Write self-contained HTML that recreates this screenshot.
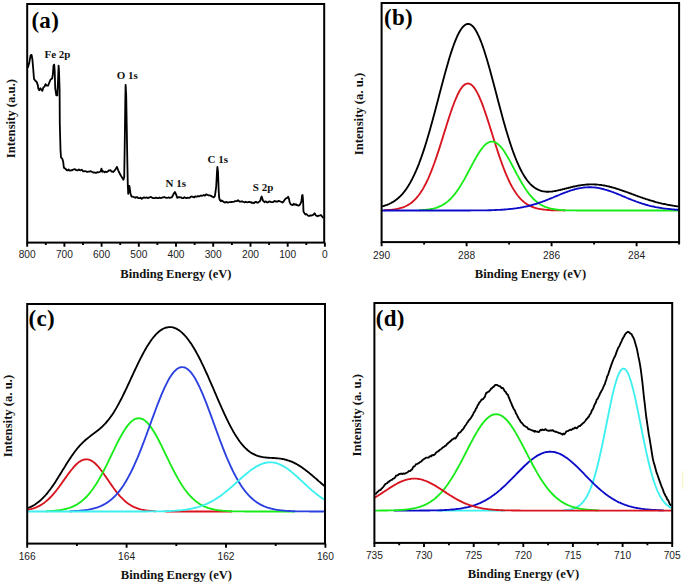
<!DOCTYPE html>
<html><head><meta charset="utf-8"><style>
html,body{margin:0;padding:0;background:#fff;}
svg{display:block;}
.k{fill:none;stroke:#000;stroke-width:1.85;stroke-linejoin:round;}
.r{fill:none;stroke:#d8141e;stroke-width:1.85;}
.g{fill:none;stroke:#18ec18;stroke-width:1.85;}
.bd{fill:none;stroke:#0c0cc8;stroke-width:1.85;}
.bm{fill:none;stroke:#2a40e0;stroke-width:1.85;}
.cy{fill:none;stroke:#3cf0f0;stroke-width:1.85;}
.tl{font-family:"Liberation Sans", sans-serif;font-size:10.2px;fill:#1c1c1c;}
.at{font-family:"Liberation Serif", serif;font-weight:bold;font-size:12.6px;fill:#111;}
.yl{font-size:12.7px;}
.pl{font-family:"Liberation Serif", serif;font-weight:bold;font-size:23px;fill:#000;letter-spacing:0.3px;}
.pk{font-family:"Liberation Serif", serif;font-weight:bold;font-size:11px;fill:#111;}
</style></head><body>
<svg width="685" height="585" viewBox="0 0 685 585">
<rect width="685" height="585" fill="#fff"/>
<rect x="682" y="471" width="1.4" height="18" fill="#f8f0a8" opacity="0.6"/>
<polyline points="27.8,67.7 29.1,63.6 30.6,55.4 31.6,54.9 32.4,59.5 33.2,68.7 34,79 35.2,80.5 36.8,82.1 37.8,85.1 38.3,88.7 39.3,90.3 40.4,88.2 41.4,89.7 42.4,90.8 43.4,87.2 44.5,86.7 45.5,84.1 46.5,85.6 48.1,85.6 49.1,83.1 50.6,79.5 52.2,78.5 52.9,73.8 53.5,65.6 54.2,64.6 54.7,70.8 55.2,88.2 56.3,95.4 57.3,95.4 58,81 58.6,65.6 59,70.8 59.6,89.2 59.8,124 60.5,149.8 61,157.5 62.2,158.4 63.2,161.8 63.9,167.8 65.3,168.6 66.2,169.5 67,170.3 67.8,170.4 68.7,169.5 69.6,170.5 70.4,170.6 71.2,170.2 72.1,170.3 72.9,169.7 73.8,169.3 74.7,169.2 75.5,169.5 76.3,170.2 77.2,170.5 78.1,170 78.9,169.5 79.8,170.2 80.6,170.4 81.5,169.6 82.4,170.3 83.2,171.4 84.1,171.3 84.9,171.2 85.8,171.2 86.7,171.8 87.5,171.9 88.3,171.7 89.2,171.7 90.1,171.3 90.9,171.2 91.8,171.8 92.6,172 93.4,172.6 94.3,172.5 95.2,172.6 96,172.9 96.8,172.4 97.7,172.1 98.6,172.3 99.4,172 100.5,171.5 101.5,168.6 102.2,171.8 102.9,171.2 103.8,171.5 104.6,172.4 105.4,171.6 106.3,172 107.2,171.8 108,171.2 108.8,170.5 109.7,170.3 110.6,170.2 111.4,171.7 112.2,171.5 113.1,172 114,171.1 114.8,170.3 116,168.5 116.9,166.9 118.2,170.3 119.5,173 120.8,175.5 122.1,177.6 123.4,179.7 124.2,177.2 124.8,140 125.3,100 125.6,84.8 126.2,95 126.8,130 127.3,160 127.8,185 128.2,193.8 128.8,190 129.4,185.8 130,190 130.5,193.8 131.6,196.7 132.7,196.7 133.8,197 135.2,197.8 135.9,197.1 136.7,197.4 137.4,197.2 138.2,198.1 139.6,198.2 140.7,197.6 141.8,198.9 142.9,198 144,197.4 144.8,197.7 145.5,197.9 146.9,197.4 147.8,198 148.7,197.8 149.6,197.3 150.5,197 151.4,197.2 152.3,197.9 153.2,198.2 154.2,198.2 155.1,198.2 156,197.6 156.9,197.8 157.8,198.2 158.7,198.1 159.6,197.5 160.6,198.1 161.5,197.9 162.4,197.5 163.3,197.3 164.2,197 165.1,197.4 166.1,197.8 167,197.9 167.9,197.7 168.8,197.4 169.6,197.9 170.3,197.6 171.7,197.4 172.7,195.8 173.6,193.8 174.9,192 176.1,194.5 177.3,197.9 178.1,197.1 178.9,197.3 179.7,197.1 180.5,197.4 181.2,197.4 182,198.1 183.4,198.2 184.2,197.2 184.9,197.5 186.3,198.2 187.7,197.6 188.4,197.8 189.2,197.9 189.9,197.6 190.7,196.9 191.4,196.5 192.2,196.7 193.6,197.2 194.3,197.4 195.1,196.4 196.5,196.6 197.2,196.6 198,196 198.8,196.4 199.5,196.3 200.9,195.5 201.7,195.8 202.4,195.7 203.8,195 204.6,195.6 205.3,195.4 206.1,194.4 206.8,194.5 208.2,195.2 208.9,195.5 209.7,195.3 211.1,195.8 211.8,196.5 212.6,196.7 213.7,197.4 214.8,196.4 215.5,192 216.2,186.5 217,171.9 217.4,166.8 218,171.9 218.7,190.9 219.1,197 219.6,199.6 220.9,201.3 221.7,200.4 222.5,201 223.6,201.9 224.7,202.6 225.6,202.1 226.5,201.9 227.4,202.5 228.4,202.5 229.4,202.2 230.4,202.2 231.4,202 232.3,201.8 233.2,201.9 234.2,201.7 235.1,201.1 236.1,201.2 237.1,201 238,200.3 238.9,201 239.8,201.7 240.8,201.7 241.7,201.4 242.6,201.5 243.6,202 244.6,202.3 245.5,201.7 246.4,202.2 247.4,202.3 248.4,202 249.3,201.8 250.2,202.3 251.2,202.2 252.1,203 253.1,202.7 254.1,203.1 255,202.1 255.9,201.7 256.9,202.6 257.8,202.7 258.6,202 259.5,201.5 260.3,200.7 261,198 261.7,196.5 262.4,198.5 263,200.7 263.8,201.4 264.5,202.2 265.4,201.5 266.4,201.7 267.4,202.5 268.3,202.2 269.2,201.4 270.2,201.7 271.1,202.1 272.1,202.1 273.1,202.2 274,201.3 274.9,200.9 275.9,201.7 276.9,201.5 277.8,201.5 278.8,200.8 279.7,201.2 280.7,201.7 281.7,202 282.5,202.5 283.4,201.8 284.7,199.7 286,198.4 287.3,197.9 288.1,196.7 289,198.8 289.6,202.2 290.7,204.4 292,204.8 292.9,205.1 293.7,203.8 295,204.8 295.9,204.2 296.7,205 297.5,205.1 298.4,205.6 299.2,205.3 300.1,204.4 301.4,201.4 302.1,195.4 302.6,195 303.1,201.4 303.5,211.6 304.8,213.8 305.6,214.5 306.5,214 307.8,215.5 308.6,215.9 309.5,215.9 310.4,215.4 311.2,215.5 312,215.4 312.9,215 313.8,214.1 314.6,213.3 315.9,215.5 316.8,215.8 317.6,216.3 318.5,215.7 319.3,215.7 320.1,215.5 321,215 322.3,216.8 323.2,218" class="k" style="stroke-width:1.8"/><polyline points="382.1,206.3 383.1,206.1 384.1,205.8 385.1,205.5 386.1,205.1 387.1,204.8 388.1,204.4 389.1,204 390.1,203.5 391.1,203 392.1,202.4 393.1,201.9 394.1,201.2 395.1,200.6 396.1,199.8 397.1,199 398.1,198.2 399.1,197.3 400.1,196.4 401.1,195.3 402.1,194.3 403.1,193.1 404.1,191.9 405.1,190.6 406.1,189.2 407.1,187.7 408.1,186.2 409.1,184.6 410.1,182.9 411.1,181 412.1,179.2 413.1,177.2 414.1,175.1 415.1,172.9 416.1,170.7 417.1,168.3 418.1,165.8 419.1,163.3 420.1,160.6 421.1,157.9 422.1,155 423.1,152.1 424.1,149.1 425.1,146 426.1,142.8 427.1,139.5 428.1,136.1 429.1,132.7 430.1,129.2 431.1,125.6 432.1,122 433.1,118.3 434.1,114.6 435.1,110.9 436.1,107.1 437.1,103.3 438.1,99.5 439.1,95.6 440.1,91.8 441.1,88 442.1,84.2 443.1,80.4 444.1,76.7 445.1,73 446.1,69.4 447.1,65.9 448.1,62.4 449.1,59 450.1,55.8 451.1,52.6 452.1,49.6 453.1,46.7 454.1,43.9 455.1,41.3 456.1,38.8 457.1,36.5 458.1,34.4 459.1,32.5 460.1,30.7 461.1,29.2 462.1,27.8 463.1,26.6 464.1,25.7 465.1,24.9 466.1,24.4 467.1,24 468.1,23.9 469.1,24 470.1,24.4 471.1,24.9 472.1,25.7 473.1,26.7 474.1,27.9 475.1,29.3 476.1,30.9 477.1,32.8 478.1,34.8 479.1,36.9 480.1,39.3 481.1,41.8 482.1,44.5 483.1,47.4 484.1,50.3 485.1,53.5 486.1,56.7 487.1,60 488.1,63.4 489.1,67 490.1,70.6 491.1,74.2 492.1,77.9 493.1,81.7 494.1,85.5 495.1,89.3 496.1,93.1 497.1,96.9 498.1,100.8 499.1,104.6 500.1,108.3 501.1,112.1 502.1,115.8 503.1,119.4 504.1,123 505.1,126.5 506.1,130 507.1,133.3 508.1,136.6 509.1,139.8 510.1,142.9 511.1,146 512.1,148.9 513.1,151.7 514.1,154.4 515.1,157 516.1,159.5 517.1,162 518.1,164.2 519.1,166.4 520.1,168.5 521.1,170.5 522.1,172.4 523.1,174.1 524.1,175.8 525.1,177.4 526.1,178.8 527.1,180.2 528.1,181.5 529.1,182.7 530.1,183.8 531.1,184.8 532.1,185.7 533.1,186.5 534.1,187.3 535.1,188 536.1,188.6 537.1,189.2 538.1,189.7 539.1,190.1 540.1,190.5 541.1,190.8 542.1,191.1 543.1,191.3 544.1,191.4 545.1,191.6 546.1,191.7 547.1,191.7 548.1,191.7 549.1,191.7 550.1,191.6 551.1,191.6 552.1,191.5 553.1,191.3 554.1,191.2 555.1,191 556.1,190.8 557.1,190.6 558.1,190.4 559.1,190.2 560.1,190 561.1,189.7 562.1,189.5 563.1,189.2 564.1,189 565.1,188.7 566.1,188.5 567.1,188.2 568.1,188 569.1,187.7 570.1,187.5 571.1,187.2 572.1,187 573.1,186.7 574.1,186.5 575.1,186.3 576.1,186.1 577.1,185.9 578.1,185.7 579.1,185.5 580.1,185.4 581.1,185.2 582.1,185.1 583.1,184.9 584.1,184.8 585.1,184.7 586.1,184.6 587.1,184.5 588.1,184.5 589.1,184.4 590.1,184.4 591.1,184.4 592.1,184.4 593.1,184.4 594.1,184.4 595.1,184.5 596.1,184.5 597.1,184.6 598.1,184.7 599.1,184.8 600.1,184.9 601.1,185 602.1,185.2 603.1,185.3 604.1,185.5 605.1,185.7 606.1,185.9 607.1,186.1 608.1,186.3 609.1,186.5 610.1,186.8 611.1,187 612.1,187.3 613.1,187.6 614.1,187.9 615.1,188.2 616.1,188.5 617.1,188.8 618.1,189.1 619.1,189.4 620.1,189.8 621.1,190.1 622.1,190.5 623.1,190.8 624.1,191.2 625.1,191.5 626.1,191.9 627.1,192.2 628.1,192.6 629.1,193 630.1,193.3 631.1,193.7 632.1,194.1 633.1,194.4 634.1,194.8 635.1,195.2 636.1,195.6 637.1,195.9 638.1,196.3 639.1,196.6 640.1,197 641.1,197.4 642.1,197.7 643.1,198.1 644.1,198.4 645.1,198.7 646.1,199.1 647.1,199.4 648.1,199.7 649.1,200 650.1,200.3 651.1,200.6 652.1,200.9 653.1,201.2 654.1,201.5 655.1,201.8 656.1,202.1 657.1,202.3 658.1,202.6 659.1,202.9 660.1,203.1 661.1,203.3 662.1,203.6 663.1,203.8 664.1,204 665.1,204.2 666.1,204.4 667.1,204.6 668.1,204.8 669.1,205 670.1,205.2 671.1,205.4 672.1,205.5 673.1,205.7 674.1,205.8 675.1,206 676.1,206.1 677.1,206.3 678.1,206.4 678.6,206.5" class="k"/><polyline points="384.1,210.2 385.1,210.2 386.1,210.1 387.1,210.1 388.1,210 389.1,209.9 390.1,209.9 391.1,209.8 392.1,209.7 393.1,209.6 394.1,209.4 395.1,209.3 396.1,209.1 397.1,208.9 398.1,208.7 399.1,208.5 400.1,208.2 401.1,207.9 402.1,207.6 403.1,207.3 404.1,206.9 405.1,206.5 406.1,206 407.1,205.5 408.1,204.9 409.1,204.3 410.1,203.7 411.1,203 412.1,202.2 413.1,201.3 414.1,200.4 415.1,199.4 416.1,198.4 417.1,197.2 418.1,196 419.1,194.7 420.1,193.3 421.1,191.8 422.1,190.3 423.1,188.6 424.1,186.8 425.1,184.9 426.1,183 427.1,180.9 428.1,178.8 429.1,176.5 430.1,174.1 431.1,171.7 432.1,169.1 433.1,166.5 434.1,163.8 435.1,161 436.1,158.1 437.1,155.1 438.1,152.1 439.1,149.1 440.1,145.9 441.1,142.8 442.1,139.6 443.1,136.4 444.1,133.1 445.1,129.9 446.1,126.7 447.1,123.5 448.1,120.4 449.1,117.3 450.1,114.3 451.1,111.3 452.1,108.4 453.1,105.7 454.1,103 455.1,100.5 456.1,98.1 457.1,95.8 458.1,93.7 459.1,91.8 460.1,90.1 461.1,88.5 462.1,87.2 463.1,86 464.1,85.1 465.1,84.4 466.1,83.9 467.1,83.6 468.1,83.5 469.1,83.7 470.1,84 471.1,84.6 472.1,85.4 473.1,86.4 474.1,87.6 475.1,89 476.1,90.6 477.1,92.4 478.1,94.4 479.1,96.5 480.1,98.8 481.1,101.2 482.1,103.7 483.1,106.4 484.1,109.2 485.1,112.1 486.1,115 487.1,118 488.1,121.1 489.1,124.2 490.1,127.4 491.1,130.6 492.1,133.8 493.1,137 494.1,140.2 495.1,143.3 496.1,146.5 497.1,149.5 498.1,152.6 499.1,155.6 500.1,158.5 501.1,161.3 502.1,164.1 503.1,166.8 504.1,169.4 505.1,171.9 506.1,174.3 507.1,176.7 508.1,178.9 509.1,181 510.1,183.1 511.1,185 512.1,186.9 513.1,188.6 514.1,190.3 515.1,191.8 516.1,193.3 517.1,194.7 518.1,196 519.1,197.2 520.1,198.3 521.1,199.4 522.1,200.4 523.1,201.3 524.1,202.1 525.1,202.9 526.1,203.6 527.1,204.3 528.1,204.9 529.1,205.4 530.1,206 531.1,206.4 532.1,206.8 533.1,207.2 534.1,207.6 535.1,207.9 536.1,208.2 537.1,208.4 538.1,208.7 539.1,208.9 540.1,209.1 541.1,209.2 542.1,209.4 543.1,209.5 544.1,209.6 545.1,209.7 546.1,209.8 547.1,209.9 548.1,210 549.1,210.1 550.1,210.1 551.1,210.2 552.1,210.2 553.1,210.3 554.1,210.3 555.1,210.3 556.1,210.3 557.1,210.4 558.1,210.4 559.1,210.4 560.1,210.4 561.1,210.4 562.1,210.4 563.1,210.4 564.1,210.5 565.1,210.5" class="r"/><polyline points="419.1,210.2 420.1,210.2 421.1,210.1 422.1,210.1 423.1,210 424.1,209.9 425.1,209.8 426.1,209.7 427.1,209.6 428.1,209.5 429.1,209.3 430.1,209.2 431.1,209 432.1,208.8 433.1,208.6 434.1,208.3 435.1,208.1 436.1,207.8 437.1,207.4 438.1,207.1 439.1,206.7 440.1,206.2 441.1,205.8 442.1,205.2 443.1,204.7 444.1,204.1 445.1,203.4 446.1,202.7 447.1,201.9 448.1,201.1 449.1,200.2 450.1,199.3 451.1,198.3 452.1,197.2 453.1,196.1 454.1,194.9 455.1,193.6 456.1,192.3 457.1,190.9 458.1,189.5 459.1,188 460.1,186.4 461.1,184.8 462.1,183.1 463.1,181.4 464.1,179.7 465.1,177.9 466.1,176 467.1,174.2 468.1,172.3 469.1,170.4 470.1,168.5 471.1,166.6 472.1,164.7 473.1,162.9 474.1,161 475.1,159.2 476.1,157.4 477.1,155.7 478.1,154.1 479.1,152.5 480.1,151 481.1,149.6 482.1,148.2 483.1,147 484.1,145.9 485.1,144.9 486.1,144 487.1,143.3 488.1,142.7 489.1,142.2 490.1,141.9 491.1,141.7 492.1,141.6 493.1,141.7 494.1,141.9 495.1,142.3 496.1,142.8 497.1,143.4 498.1,144.2 499.1,145.1 500.1,146.1 501.1,147.2 502.1,148.5 503.1,149.8 504.1,151.3 505.1,152.8 506.1,154.4 507.1,156.1 508.1,157.8 509.1,159.6 510.1,161.4 511.1,163.2 512.1,165.1 513.1,167 514.1,168.9 515.1,170.8 516.1,172.7 517.1,174.6 518.1,176.4 519.1,178.2 520.1,180 521.1,181.8 522.1,183.5 523.1,185.1 524.1,186.7 525.1,188.3 526.1,189.8 527.1,191.2 528.1,192.6 529.1,193.9 530.1,195.1 531.1,196.3 532.1,197.4 533.1,198.5 534.1,199.5 535.1,200.4 536.1,201.3 537.1,202.1 538.1,202.8 539.1,203.5 540.1,204.2 541.1,204.8 542.1,205.3 543.1,205.9 544.1,206.3 545.1,206.8 546.1,207.1 547.1,207.5 548.1,207.8 549.1,208.1 550.1,208.4 551.1,208.6 552.1,208.8 553.1,209 554.1,209.2 555.1,209.4 556.1,209.5 557.1,209.6 558.1,209.7 559.1,209.8 560.1,209.9 561.1,210 562.1,210.1 563.1,210.1 564.1,210.2 565.1,210.2 566.1,210.3 567.1,210.3 568.1,210.3 569.1,210.4 570.1,210.4 571.1,210.4 572.1,210.4 573.1,210.4 574.1,210.4 575.1,210.4 576.1,210.5 577.1,210.5 578.1,210.5 579.1,210.5 580.1,210.5 581.1,210.5 582.1,210.5 583.1,210.5 584.1,210.5 585.1,210.5 586.1,210.5 587.1,210.5 588.1,210.5 589.1,210.5 590.1,210.5 591.1,210.5 592.1,210.5 593.1,210.5 594.1,210.5 595.1,210.5 596.1,210.5 597.1,210.5 598.1,210.5 599.1,210.5 600.1,210.5 601.1,210.5 602.1,210.5 603.1,210.5 604.1,210.5 605.1,210.5 606.1,210.5 607.1,210.5 608.1,210.5 609.1,210.5 610.1,210.5 611.1,210.5 612.1,210.5 613.1,210.5 614.1,210.5 615.1,210.5 616.1,210.5 617.1,210.5 618.1,210.5 619.1,210.5 620.1,210.5 621.1,210.5 622.1,210.5 623.1,210.5 624.1,210.5 625.1,210.5 626.1,210.5 627.1,210.5 628.1,210.5 629.1,210.5 630.1,210.5 631.1,210.5 632.1,210.5 633.1,210.5 634.1,210.5 635.1,210.5 636.1,210.5 637.1,210.5 638.1,210.5 639.1,210.5 640.1,210.5 641.1,210.5 642.1,210.5 643.1,210.5 644.1,210.5 645.1,210.5 646.1,210.5 647.1,210.5 648.1,210.5 649.1,210.5 650.1,210.5 651.1,210.5 652.1,210.5 653.1,210.5 654.1,210.5 655.1,210.5 656.1,210.5 657.1,210.5 658.1,210.5 659.1,210.5 660.1,210.5 661.1,210.5 662.1,210.5 663.1,210.5 664.1,210.5 665.1,210.5 666.1,210.5 667.1,210.5 668.1,210.5 669.1,210.5 670.1,210.5 671.1,210.5 672.1,210.5 673.1,210.5 674.1,210.5 675.1,210.5 676.1,210.5 677.1,210.5 678.1,210.5 678.6,210.5" class="g"/><polyline points="382.1,210.5 383.1,210.5 384.1,210.5 385.1,210.5 386.1,210.5 387.1,210.5 388.1,210.5 389.1,210.5 390.1,210.5 391.1,210.5 392.1,210.5 393.1,210.5 394.1,210.5 395.1,210.5 396.1,210.5 397.1,210.5 398.1,210.5 399.1,210.5 400.1,210.5 401.1,210.5 402.1,210.5 403.1,210.5 404.1,210.5 405.1,210.5 406.1,210.5 407.1,210.5 408.1,210.5 409.1,210.5 410.1,210.5 411.1,210.5 412.1,210.5 413.1,210.5 414.1,210.5 415.1,210.5 416.1,210.5 417.1,210.5 418.1,210.5 419.1,210.5 420.1,210.5 421.1,210.5 422.1,210.5 423.1,210.5 424.1,210.5 425.1,210.5 426.1,210.5 427.1,210.5 428.1,210.5 429.1,210.5 430.1,210.5 431.1,210.5 432.1,210.5 433.1,210.5 434.1,210.5 435.1,210.5 436.1,210.5 437.1,210.5 438.1,210.5 439.1,210.5 440.1,210.5 441.1,210.5 442.1,210.5 443.1,210.5 444.1,210.5 445.1,210.5 446.1,210.5 447.1,210.5 448.1,210.5 449.1,210.5 450.1,210.5 451.1,210.5 452.1,210.5 453.1,210.5 454.1,210.5 455.1,210.5 456.1,210.5 457.1,210.5 458.1,210.5 459.1,210.5 460.1,210.5 461.1,210.5 462.1,210.5 463.1,210.5 464.1,210.5 465.1,210.5 466.1,210.5 467.1,210.5 468.1,210.5 469.1,210.5 470.1,210.5 471.1,210.4 472.1,210.4 473.1,210.4 474.1,210.4 475.1,210.4 476.1,210.4 477.1,210.4 478.1,210.4 479.1,210.4 480.1,210.4 481.1,210.4 482.1,210.4 483.1,210.3 484.1,210.3 485.1,210.3 486.1,210.3 487.1,210.3 488.1,210.2 489.1,210.2 490.1,210.2 491.1,210.2 492.1,210.1 493.1,210.1 494.1,210.1 495.1,210 496.1,210 497.1,209.9 498.1,209.9 499.1,209.8 500.1,209.8 501.1,209.7 502.1,209.7 503.1,209.6 504.1,209.5 505.1,209.5 506.1,209.4 507.1,209.3 508.1,209.2 509.1,209.1 510.1,209 511.1,208.9 512.1,208.8 513.1,208.7 514.1,208.6 515.1,208.4 516.1,208.3 517.1,208.2 518.1,208 519.1,207.8 520.1,207.7 521.1,207.5 522.1,207.3 523.1,207.1 524.1,206.9 525.1,206.7 526.1,206.5 527.1,206.3 528.1,206 529.1,205.8 530.1,205.5 531.1,205.3 532.1,205 533.1,204.7 534.1,204.4 535.1,204.1 536.1,203.8 537.1,203.5 538.1,203.2 539.1,202.8 540.1,202.5 541.1,202.1 542.1,201.8 543.1,201.4 544.1,201 545.1,200.7 546.1,200.3 547.1,199.9 548.1,199.5 549.1,199.1 550.1,198.7 551.1,198.3 552.1,197.9 553.1,197.5 554.1,197 555.1,196.6 556.1,196.2 557.1,195.8 558.1,195.4 559.1,195 560.1,194.5 561.1,194.1 562.1,193.7 563.1,193.3 564.1,192.9 565.1,192.5 566.1,192.2 567.1,191.8 568.1,191.4 569.1,191.1 570.1,190.7 571.1,190.4 572.1,190.1 573.1,189.8 574.1,189.5 575.1,189.2 576.1,189 577.1,188.7 578.1,188.5 579.1,188.3 580.1,188.1 581.1,187.9 582.1,187.8 583.1,187.6 584.1,187.5 585.1,187.4 586.1,187.3 587.1,187.3 588.1,187.2 589.1,187.2 590.1,187.2 591.1,187.2 592.1,187.3 593.1,187.3 594.1,187.4 595.1,187.5 596.1,187.6 597.1,187.8 598.1,187.9 599.1,188.1 600.1,188.3 601.1,188.5 602.1,188.8 603.1,189 604.1,189.3 605.1,189.6 606.1,189.8 607.1,190.2 608.1,190.5 609.1,190.8 610.1,191.1 611.1,191.5 612.1,191.9 613.1,192.2 614.1,192.6 615.1,193 616.1,193.4 617.1,193.8 618.1,194.2 619.1,194.6 620.1,195 621.1,195.4 622.1,195.9 623.1,196.3 624.1,196.7 625.1,197.1 626.1,197.5 627.1,198 628.1,198.4 629.1,198.8 630.1,199.2 631.1,199.6 632.1,200 633.1,200.4 634.1,200.7 635.1,201.1 636.1,201.5 637.1,201.9 638.1,202.2 639.1,202.6 640.1,202.9 641.1,203.2 642.1,203.6 643.1,203.9 644.1,204.2 645.1,204.5 646.1,204.8 647.1,205 648.1,205.3 649.1,205.6 650.1,205.8 651.1,206.1 652.1,206.3 653.1,206.5 654.1,206.7 655.1,207 656.1,207.2 657.1,207.3 658.1,207.5 659.1,207.7 660.1,207.9 661.1,208 662.1,208.2 663.1,208.3 664.1,208.5 665.1,208.6 666.1,208.7 667.1,208.8 668.1,208.9 669.1,209 670.1,209.1 671.1,209.2 672.1,209.3 673.1,209.4 674.1,209.5 675.1,209.6 676.1,209.6 677.1,209.7 678.1,209.7 678.6,209.8" class="bd"/><polyline points="27.7,508.1 28.7,507.7 29.7,507.3 30.7,506.9 31.7,506.4 32.7,505.8 33.7,505.3 34.7,504.7 35.7,504 36.7,503.3 37.7,502.6 38.7,501.8 39.7,501 40.7,500.1 41.7,499.2 42.7,498.2 43.7,497.2 44.7,496.1 45.7,495 46.7,493.8 47.7,492.6 48.7,491.3 49.7,490 50.7,488.7 51.7,487.3 52.7,485.9 53.7,484.4 54.7,482.9 55.7,481.4 56.7,479.8 57.7,478.2 58.7,476.6 59.7,475 60.7,473.4 61.7,471.8 62.7,470.1 63.7,468.5 64.7,466.9 65.7,465.2 66.7,463.6 67.7,462.1 68.7,460.5 69.7,459 70.7,457.5 71.7,456 72.7,454.6 73.7,453.2 74.7,451.8 75.7,450.5 76.7,449.2 77.7,448 78.7,446.8 79.7,445.7 80.7,444.6 81.7,443.6 82.7,442.6 83.7,441.6 84.7,440.7 85.7,439.8 86.7,439 87.7,438.2 88.7,437.4 89.7,436.6 90.7,435.8 91.7,435.1 92.7,434.3 93.7,433.6 94.7,432.8 95.7,432.1 96.7,431.3 97.7,430.5 98.7,429.7 99.7,428.9 100.7,428 101.7,427.1 102.7,426.2 103.7,425.2 104.7,424.2 105.7,423.1 106.7,421.9 107.7,420.7 108.7,419.5 109.7,418.2 110.7,416.8 111.7,415.4 112.7,413.9 113.7,412.4 114.7,410.8 115.7,409.1 116.7,407.4 117.7,405.6 118.7,403.8 119.7,401.9 120.7,400 121.7,398.1 122.7,396.1 123.7,394 124.7,392 125.7,389.9 126.7,387.8 127.7,385.6 128.7,383.5 129.7,381.3 130.7,379.1 131.7,377 132.7,374.8 133.7,372.6 134.7,370.5 135.7,368.4 136.7,366.3 137.7,364.2 138.7,362.1 139.7,360.1 140.7,358.1 141.7,356.2 142.7,354.3 143.7,352.4 144.7,350.6 145.7,348.8 146.7,347.1 147.7,345.5 148.7,343.9 149.7,342.4 150.7,340.9 151.7,339.5 152.7,338.2 153.7,337 154.7,335.8 155.7,334.7 156.7,333.6 157.7,332.7 158.7,331.8 159.7,331 160.7,330.2 161.7,329.6 162.7,329 163.7,328.5 164.7,328.1 165.7,327.7 166.7,327.5 167.7,327.3 168.7,327.1 169.7,327.1 170.7,327.1 171.7,327.2 172.7,327.4 173.7,327.7 174.7,328 175.7,328.4 176.7,328.9 177.7,329.5 178.7,330.1 179.7,330.8 180.7,331.6 181.7,332.4 182.7,333.4 183.7,334.4 184.7,335.4 185.7,336.5 186.7,337.7 187.7,339 188.7,340.3 189.7,341.7 190.7,343.1 191.7,344.6 192.7,346.2 193.7,347.8 194.7,349.5 195.7,351.3 196.7,353.1 197.7,354.9 198.7,356.8 199.7,358.7 200.7,360.7 201.7,362.8 202.7,364.8 203.7,366.9 204.7,369.1 205.7,371.3 206.7,373.5 207.7,375.7 208.7,378 209.7,380.3 210.7,382.6 211.7,384.9 212.7,387.2 213.7,389.5 214.7,391.9 215.7,394.2 216.7,396.5 217.7,398.8 218.7,401.2 219.7,403.5 220.7,405.7 221.7,408 222.7,410.2 223.7,412.4 224.7,414.6 225.7,416.7 226.7,418.8 227.7,420.9 228.7,422.9 229.7,424.9 230.7,426.8 231.7,428.6 232.7,430.4 233.7,432.2 234.7,433.9 235.7,435.5 236.7,437.1 237.7,438.6 238.7,440.1 239.7,441.5 240.7,442.8 241.7,444 242.7,445.2 243.7,446.3 244.7,447.4 245.7,448.4 246.7,449.3 247.7,450.2 248.7,451 249.7,451.8 250.7,452.5 251.7,453.1 252.7,453.7 253.7,454.2 254.7,454.7 255.7,455.2 256.7,455.5 257.7,455.9 258.7,456.2 259.7,456.5 260.7,456.7 261.7,456.9 262.7,457.1 263.7,457.3 264.7,457.4 265.7,457.5 266.7,457.6 267.7,457.7 268.7,457.7 269.7,457.8 270.7,457.9 271.7,457.9 272.7,458 273.7,458 274.7,458.1 275.7,458.2 276.7,458.2 277.7,458.3 278.7,458.4 279.7,458.6 280.7,458.7 281.7,458.9 282.7,459 283.7,459.2 284.7,459.5 285.7,459.7 286.7,460 287.7,460.3 288.7,460.6 289.7,461 290.7,461.3 291.7,461.7 292.7,462.2 293.7,462.6 294.7,463.1 295.7,463.7 296.7,464.2 297.7,464.8 298.7,465.4 299.7,466 300.7,466.6 301.7,467.3 302.7,468 303.7,468.7 304.7,469.4 305.7,470.2 306.7,471 307.7,471.7 308.7,472.5 309.7,473.4 310.7,474.2 311.7,475 312.7,475.9 313.7,476.7 314.7,477.6 315.7,478.4 316.7,479.3 317.7,480.2 318.7,481.1 319.7,481.9 320.7,482.8 321.7,483.7 322.7,484.5 323.7,485.4 324.5,486.1" class="k"/><polyline points="27.7,509.9 28.7,509.7 29.7,509.4 30.7,509.2 31.7,508.9 32.7,508.6 33.7,508.3 34.7,507.9 35.7,507.6 36.7,507.1 37.7,506.7 38.7,506.2 39.7,505.7 40.7,505.1 41.7,504.5 42.7,503.8 43.7,503.2 44.7,502.4 45.7,501.6 46.7,500.8 47.7,499.9 48.7,499 49.7,498 50.7,497 51.7,495.9 52.7,494.8 53.7,493.7 54.7,492.5 55.7,491.3 56.7,490 57.7,488.7 58.7,487.4 59.7,486 60.7,484.6 61.7,483.2 62.7,481.8 63.7,480.4 64.7,479 65.7,477.6 66.7,476.2 67.7,474.8 68.7,473.4 69.7,472.1 70.7,470.8 71.7,469.5 72.7,468.3 73.7,467.1 74.7,466 75.7,465 76.7,464 77.7,463.1 78.7,462.3 79.7,461.6 80.7,461 81.7,460.4 82.7,460 83.7,459.7 84.7,459.5 85.7,459.3 86.7,459.3 87.7,459.4 88.7,459.6 89.7,459.9 90.7,460.3 91.7,460.9 92.7,461.5 93.7,462.2 94.7,463 95.7,464 96.7,465 97.7,466 98.7,467.2 99.7,468.4 100.7,469.7 101.7,471 102.7,472.3 103.7,473.7 104.7,475.2 105.7,476.6 106.7,478.1 107.7,479.5 108.7,481 109.7,482.5 110.7,483.9 111.7,485.4 112.7,486.8 113.7,488.2 114.7,489.5 115.7,490.9 116.7,492.2 117.7,493.4 118.7,494.6 119.7,495.8 120.7,496.9 121.7,497.9 122.7,498.9 123.7,499.9 124.7,500.8 125.7,501.7 126.7,502.5 127.7,503.3 128.7,504 129.7,504.6 130.7,505.3 131.7,505.8 132.7,506.4 133.7,506.9 134.7,507.3 135.7,507.7 136.7,508.1 137.7,508.5 138.7,508.8 139.7,509.1 140.7,509.3 141.7,509.6 142.7,509.8 143.7,510 144.7,510.2 145.7,510.3 146.7,510.5 147.7,510.6 148.7,510.7 149.7,510.8 150.7,510.9 151.7,511 152.7,511.1 153.7,511.1 154.7,511.2 155.7,511.2" class="r"/><polyline points="164.7,511.4 165.7,511.4 166.7,511.5 167.7,511.5 168.7,511.5 169.7,511.5 170.7,511.5 171.7,511.5 172.7,511.5 173.7,511.5 174.7,511.5 175.7,511.5 176.7,511.5 177.7,511.5 178.7,511.5 179.7,511.5 180.7,511.5 181.7,511.5 182.7,511.5 183.7,511.5 184.7,511.5 185.7,511.5 186.7,511.5 187.7,511.5 188.7,511.5 189.7,511.5 190.7,511.5 191.7,511.5 192.7,511.5 193.7,511.5 194.7,511.5 195.7,511.5 196.7,511.5 197.7,511.5 198.7,511.5 199.7,511.5 200.7,511.5 201.7,511.5 202.7,511.5 203.7,511.5 204.7,511.5 205.7,511.5 206.7,511.5 207.7,511.5 208.7,511.5 209.7,511.5 210.7,511.5 211.7,511.5 212.7,511.5 213.7,511.5 214.7,511.5 215.7,511.5 216.7,511.5 217.7,511.5 218.7,511.5 219.7,511.5 220.7,511.5 221.7,511.5 222.7,511.5 223.7,511.5 224.7,511.5 225.7,511.5 226.7,511.5 227.7,511.5 228.7,511.5 229.7,511.5 230.7,511.5 231.7,511.5" class="r"/><polyline points="45.7,511.2 46.7,511.2 47.7,511.2 48.7,511.1 49.7,511.1 50.7,511 51.7,510.9 52.7,510.9 53.7,510.8 54.7,510.7 55.7,510.6 56.7,510.5 57.7,510.4 58.7,510.3 59.7,510.1 60.7,510 61.7,509.8 62.7,509.6 63.7,509.4 64.7,509.2 65.7,509 66.7,508.7 67.7,508.4 68.7,508.1 69.7,507.8 70.7,507.4 71.7,507 72.7,506.6 73.7,506.1 74.7,505.6 75.7,505.1 76.7,504.6 77.7,504 78.7,503.3 79.7,502.6 80.7,501.9 81.7,501.1 82.7,500.3 83.7,499.4 84.7,498.5 85.7,497.5 86.7,496.5 87.7,495.4 88.7,494.3 89.7,493.1 90.7,491.8 91.7,490.5 92.7,489.2 93.7,487.8 94.7,486.3 95.7,484.8 96.7,483.2 97.7,481.5 98.7,479.9 99.7,478.1 100.7,476.3 101.7,474.5 102.7,472.6 103.7,470.7 104.7,468.8 105.7,466.8 106.7,464.8 107.7,462.8 108.7,460.7 109.7,458.7 110.7,456.6 111.7,454.5 112.7,452.4 113.7,450.3 114.7,448.3 115.7,446.2 116.7,444.2 117.7,442.2 118.7,440.3 119.7,438.4 120.7,436.5 121.7,434.8 122.7,433 123.7,431.4 124.7,429.8 125.7,428.3 126.7,426.9 127.7,425.5 128.7,424.3 129.7,423.2 130.7,422.1 131.7,421.2 132.7,420.4 133.7,419.8 134.7,419.2 135.7,418.8 136.7,418.5 137.7,418.3 138.7,418.2 139.7,418.3 140.7,418.5 141.7,418.8 142.7,419.2 143.7,419.8 144.7,420.4 145.7,421.2 146.7,422.1 147.7,423.2 148.7,424.3 149.7,425.5 150.7,426.9 151.7,428.3 152.7,429.8 153.7,431.4 154.7,433 155.7,434.8 156.7,436.5 157.7,438.4 158.7,440.3 159.7,442.2 160.7,444.2 161.7,446.2 162.7,448.3 163.7,450.3 164.7,452.4 165.7,454.5 166.7,456.6 167.7,458.7 168.7,460.7 169.7,462.8 170.7,464.8 171.7,466.8 172.7,468.8 173.7,470.7 174.7,472.6 175.7,474.5 176.7,476.3 177.7,478.1 178.7,479.9 179.7,481.5 180.7,483.2 181.7,484.8 182.7,486.3 183.7,487.8 184.7,489.2 185.7,490.5 186.7,491.8 187.7,493.1 188.7,494.3 189.7,495.4 190.7,496.5 191.7,497.5 192.7,498.5 193.7,499.4 194.7,500.3 195.7,501.1 196.7,501.9 197.7,502.6 198.7,503.3 199.7,504 200.7,504.6 201.7,505.1 202.7,505.6 203.7,506.1 204.7,506.6 205.7,507 206.7,507.4 207.7,507.8 208.7,508.1 209.7,508.4 210.7,508.7 211.7,509 212.7,509.2 213.7,509.4 214.7,509.6 215.7,509.8 216.7,510 217.7,510.1 218.7,510.3 219.7,510.4 220.7,510.5 221.7,510.6 222.7,510.7 223.7,510.8 224.7,510.9 225.7,510.9 226.7,511 227.7,511.1 228.7,511.1 229.7,511.2 230.7,511.2 231.7,511.2 232.7,511.3 233.7,511.3 234.7,511.3 235.7,511.3 236.7,511.4 237.7,511.4 238.7,511.4 239.7,511.4 240.7,511.4 241.7,511.4 242.7,511.4 243.7,511.4 244.7,511.5 245.7,511.5 246.7,511.5 247.7,511.5 248.7,511.5 249.7,511.5 250.7,511.5 251.7,511.5 252.7,511.5 253.7,511.5 254.7,511.5 255.7,511.5 256.7,511.5 257.7,511.5 258.7,511.5 259.7,511.5 260.7,511.5 261.7,511.5 262.7,511.5 263.7,511.5 264.7,511.5 265.7,511.5 266.7,511.5 267.7,511.5 268.7,511.5 269.7,511.5 270.7,511.5 271.7,511.5 272.7,511.5 273.7,511.5 274.7,511.5 275.7,511.5 276.7,511.5 277.7,511.5 278.7,511.5 279.7,511.5 280.7,511.5 281.7,511.5 282.7,511.5 283.7,511.5 284.7,511.5 285.7,511.5 286.7,511.5 287.7,511.5 288.7,511.5 289.7,511.5 290.7,511.5 291.7,511.5 292.7,511.5 293.7,511.5 294.7,511.5" class="g"/><polyline points="69.7,511.2 70.7,511.2 71.7,511.2 72.7,511.1 73.7,511.1 74.7,511 75.7,511 76.7,510.9 77.7,510.8 78.7,510.8 79.7,510.7 80.7,510.6 81.7,510.5 82.7,510.4 83.7,510.3 84.7,510.2 85.7,510.1 86.7,509.9 87.7,509.8 88.7,509.6 89.7,509.4 90.7,509.2 91.7,509 92.7,508.7 93.7,508.5 94.7,508.2 95.7,507.9 96.7,507.6 97.7,507.3 98.7,506.9 99.7,506.5 100.7,506.1 101.7,505.6 102.7,505.2 103.7,504.6 104.7,504.1 105.7,503.5 106.7,502.9 107.7,502.2 108.7,501.5 109.7,500.8 110.7,500 111.7,499.1 112.7,498.2 113.7,497.3 114.7,496.3 115.7,495.3 116.7,494.2 117.7,493 118.7,491.8 119.7,490.6 120.7,489.2 121.7,487.9 122.7,486.4 123.7,484.9 124.7,483.3 125.7,481.7 126.7,480 127.7,478.3 128.7,476.4 129.7,474.5 130.7,472.6 131.7,470.6 132.7,468.5 133.7,466.4 134.7,464.2 135.7,461.9 136.7,459.6 137.7,457.3 138.7,454.8 139.7,452.4 140.7,449.9 141.7,447.3 142.7,444.7 143.7,442.1 144.7,439.5 145.7,436.8 146.7,434.1 147.7,431.3 148.7,428.6 149.7,425.8 150.7,423.1 151.7,420.3 152.7,417.6 153.7,414.9 154.7,412.1 155.7,409.5 156.7,406.8 157.7,404.2 158.7,401.6 159.7,399.1 160.7,396.6 161.7,394.2 162.7,391.8 163.7,389.6 164.7,387.4 165.7,385.3 166.7,383.3 167.7,381.4 168.7,379.5 169.7,377.8 170.7,376.2 171.7,374.8 172.7,373.4 173.7,372.2 174.7,371.1 175.7,370.1 176.7,369.2 177.7,368.5 178.7,368 179.7,367.5 180.7,367.3 181.7,367.1 182.7,367.1 183.7,367.3 184.7,367.5 185.7,368 186.7,368.5 187.7,369.2 188.7,370.1 189.7,371.1 190.7,372.2 191.7,373.4 192.7,374.8 193.7,376.2 194.7,377.8 195.7,379.5 196.7,381.4 197.7,383.3 198.7,385.3 199.7,387.4 200.7,389.6 201.7,391.8 202.7,394.2 203.7,396.6 204.7,399.1 205.7,401.6 206.7,404.2 207.7,406.8 208.7,409.5 209.7,412.1 210.7,414.9 211.7,417.6 212.7,420.3 213.7,423.1 214.7,425.8 215.7,428.6 216.7,431.3 217.7,434.1 218.7,436.8 219.7,439.5 220.7,442.1 221.7,444.7 222.7,447.3 223.7,449.9 224.7,452.4 225.7,454.8 226.7,457.3 227.7,459.6 228.7,461.9 229.7,464.2 230.7,466.4 231.7,468.5 232.7,470.6 233.7,472.6 234.7,474.5 235.7,476.4 236.7,478.3 237.7,480 238.7,481.7 239.7,483.3 240.7,484.9 241.7,486.4 242.7,487.9 243.7,489.2 244.7,490.6 245.7,491.8 246.7,493 247.7,494.2 248.7,495.3 249.7,496.3 250.7,497.3 251.7,498.2 252.7,499.1 253.7,500 254.7,500.8 255.7,501.5 256.7,502.2 257.7,502.9 258.7,503.5 259.7,504.1 260.7,504.6 261.7,505.2 262.7,505.6 263.7,506.1 264.7,506.5 265.7,506.9 266.7,507.3 267.7,507.6 268.7,507.9 269.7,508.2 270.7,508.5 271.7,508.7 272.7,509 273.7,509.2 274.7,509.4 275.7,509.6 276.7,509.8 277.7,509.9 278.7,510.1 279.7,510.2 280.7,510.3 281.7,510.4 282.7,510.5 283.7,510.6 284.7,510.7 285.7,510.8 286.7,510.8 287.7,510.9 288.7,511 289.7,511 290.7,511.1 291.7,511.1 292.7,511.2 293.7,511.2 294.7,511.2 295.7,511.3 296.7,511.3 297.7,511.3 298.7,511.3 299.7,511.3 300.7,511.4 301.7,511.4 302.7,511.4 303.7,511.4 304.7,511.4 305.7,511.4 306.7,511.4 307.7,511.4 308.7,511.4 309.7,511.5 310.7,511.5 311.7,511.5 312.7,511.5 313.7,511.5 314.7,511.5 315.7,511.5 316.7,511.5 317.7,511.5 318.7,511.5 319.7,511.5 320.7,511.5 321.7,511.5 322.7,511.5 323.7,511.5 324.5,511.5" class="bm"/><polyline points="27.7,511.5 28.7,511.5 29.7,511.5 30.7,511.5 31.7,511.5 32.7,511.5 33.7,511.5 34.7,511.5 35.7,511.5 36.7,511.5 37.7,511.5 38.7,511.5 39.7,511.5 40.7,511.5 41.7,511.5 42.7,511.5 43.7,511.5 44.7,511.5 45.7,511.5 46.7,511.5 47.7,511.5 48.7,511.5 49.7,511.5 50.7,511.5 51.7,511.5 52.7,511.5 53.7,511.5 54.7,511.5 55.7,511.5 56.7,511.5 57.7,511.5 58.7,511.5 59.7,511.5 60.7,511.5 61.7,511.5 62.7,511.5 63.7,511.5 64.7,511.5 65.7,511.5 66.7,511.5 67.7,511.5 68.7,511.5 69.7,511.5 70.7,511.5 71.7,511.5 72.7,511.5 73.7,511.5 74.7,511.5 75.7,511.5 76.7,511.5 77.7,511.5 78.7,511.5 79.7,511.5 80.7,511.5 81.7,511.5 82.7,511.5 83.7,511.5 84.7,511.5 85.7,511.5 86.7,511.5 87.7,511.5 88.7,511.5 89.7,511.5 90.7,511.5 91.7,511.5 92.7,511.5 93.7,511.5 94.7,511.5 95.7,511.5 96.7,511.5 97.7,511.5 98.7,511.5 99.7,511.5 100.7,511.5 101.7,511.5 102.7,511.5 103.7,511.5 104.7,511.5 105.7,511.5 106.7,511.5 107.7,511.5 108.7,511.5 109.7,511.5 110.7,511.5 111.7,511.5 112.7,511.5 113.7,511.5 114.7,511.5 115.7,511.5 116.7,511.5 117.7,511.5 118.7,511.5 119.7,511.5 120.7,511.5 121.7,511.5 122.7,511.5 123.7,511.5 124.7,511.5 125.7,511.5 126.7,511.5 127.7,511.5 128.7,511.5 129.7,511.5 130.7,511.5 131.7,511.5 132.7,511.5 133.7,511.5 134.7,511.5 135.7,511.5 136.7,511.5 137.7,511.5 138.7,511.5 139.7,511.5 140.7,511.5 141.7,511.5 142.7,511.5 143.7,511.5 144.7,511.5 145.7,511.5 146.7,511.5 147.7,511.5 148.7,511.4 149.7,511.4 150.7,511.4 151.7,511.4 152.7,511.4 153.7,511.4 154.7,511.4 155.7,511.4 156.7,511.4 157.7,511.4 158.7,511.3 159.7,511.3 160.7,511.3 161.7,511.3 162.7,511.3 163.7,511.2 164.7,511.2 165.7,511.2 166.7,511.1 167.7,511.1 168.7,511.1 169.7,511 170.7,511 171.7,510.9 172.7,510.9 173.7,510.8 174.7,510.8 175.7,510.7 176.7,510.6 177.7,510.5 178.7,510.5 179.7,510.4 180.7,510.3 181.7,510.2 182.7,510.1 183.7,509.9 184.7,509.8 185.7,509.7 186.7,509.5 187.7,509.4 188.7,509.2 189.7,509 190.7,508.8 191.7,508.6 192.7,508.4 193.7,508.2 194.7,508 195.7,507.7 196.7,507.4 197.7,507.2 198.7,506.9 199.7,506.5 200.7,506.2 201.7,505.9 202.7,505.5 203.7,505.1 204.7,504.7 205.7,504.3 206.7,503.9 207.7,503.4 208.7,502.9 209.7,502.4 210.7,501.9 211.7,501.4 212.7,500.8 213.7,500.3 214.7,499.7 215.7,499 216.7,498.4 217.7,497.8 218.7,497.1 219.7,496.4 220.7,495.7 221.7,494.9 222.7,494.2 223.7,493.4 224.7,492.6 225.7,491.8 226.7,491 227.7,490.2 228.7,489.4 229.7,488.5 230.7,487.6 231.7,486.8 232.7,485.9 233.7,485 234.7,484.1 235.7,483.2 236.7,482.3 237.7,481.4 238.7,480.5 239.7,479.6 240.7,478.7 241.7,477.8 242.7,476.9 243.7,476 244.7,475.2 245.7,474.3 246.7,473.5 247.7,472.7 248.7,471.9 249.7,471.1 250.7,470.3 251.7,469.6 252.7,468.9 253.7,468.2 254.7,467.6 255.7,466.9 256.7,466.4 257.7,465.8 258.7,465.3 259.7,464.8 260.7,464.4 261.7,464 262.7,463.6 263.7,463.3 264.7,463 265.7,462.8 266.7,462.6 267.7,462.5 268.7,462.4 269.7,462.3 270.7,462.3 271.7,462.3 272.7,462.4 273.7,462.6 274.7,462.7 275.7,463 276.7,463.2 277.7,463.6 278.7,463.9 279.7,464.3 280.7,464.8 281.7,465.3 282.7,465.8 283.7,466.4 284.7,467 285.7,467.6 286.7,468.3 287.7,469 288.7,469.7 289.7,470.5 290.7,471.3 291.7,472.1 292.7,472.9 293.7,473.8 294.7,474.6 295.7,475.5 296.7,476.4 297.7,477.3 298.7,478.2 299.7,479.1 300.7,480.1 301.7,481 302.7,481.9 303.7,482.9 304.7,483.8 305.7,484.7 306.7,485.6 307.7,486.6 308.7,487.5 309.7,488.4 310.7,489.2 311.7,490.1 312.7,491 313.7,491.8 314.7,492.6 315.7,493.4 316.7,494.2 317.7,495 318.7,495.8 319.7,496.5 320.7,497.2 321.7,497.9 322.7,498.6 323.7,499.2 324.5,499.7" class="cy"/><polyline points="375.2,494.4 376,493.7 376.8,492.7 377.6,491.8 378.4,491.2 379.2,490.3 380,490 380.8,489.8 381.6,488.6 382.4,487.8 383.2,487.1 384,485.9 384.8,484.8 385.6,483.8 386.4,483.5 387.2,483.2 388,482 388.8,481.9 389.6,480.9 390.4,480.6 391.2,479.8 392,479.8 392.8,478.8 393.6,478.7 394.4,478.1 395.2,477.3 396,475.7 396.8,475.6 397.6,475.2 398.4,474.8 399.2,473.9 400,474 400.8,473.6 401.6,473.6 402.4,474.1 403.2,473.4 404,473.6 404.8,473.8 405.6,473.1 406.4,472.9 407.2,472.5 408,471.9 408.8,471 409.6,471.1 410.4,471.1 411.2,469.6 412,469.6 412.8,467.9 413.6,466.4 414.4,466.5 415.2,465.5 416,464.2 416.8,464.1 417.6,463.8 418.4,463.1 419.2,462.9 420,462.1 420.8,461.7 421.6,461.4 422.4,460 423.2,459.7 424,459 424.8,458.7 425.6,457.8 426.4,457.7 427.2,457.6 428,457.7 428.8,457.5 429.6,456.3 430.4,456.2 431.2,456.4 432,455.1 432.8,455.3 433.6,454.9 434.4,454.8 435.2,453.9 436,452.8 436.8,452.1 437.6,451.4 438.4,451.4 439.2,450.2 440,449.7 440.8,449.4 441.6,448.6 442.4,448 443.2,447.1 444,446.9 444.8,446 445.6,445.8 446.4,444.9 447.2,443.9 448,443.4 448.8,442.3 449.6,442.1 450.4,441.1 451.2,440.6 452,439.4 452.8,439.5 453.6,438.5 454.4,438.2 455.2,438.6 456,437.8 456.8,436.3 457.6,435.5 458.4,433.5 459.2,432.8 460,432.4 460.8,431.8 461.6,430.7 462.4,429.7 463.2,429 464,427.8 464.8,426.2 465.6,425.3 466.4,424.2 467.2,422.6 468,421.8 468.8,420.3 469.6,419.8 470.4,418.6 471.2,417.5 472,416.1 472.8,415 473.6,413 474.4,411.8 475.2,410.7 476,408.4 476.8,407.8 477.6,405.3 478.4,404.6 479.2,402.5 480,401.9 480.8,400.7 481.6,399.4 482.4,399.6 483.2,399 484,397.8 484.8,396.9 485.6,394.5 486.4,392.6 487.2,392.7 488,391.8 488.8,391.6 489.6,390.7 490.4,389.8 491.2,388.5 492,388.3 492.8,387.1 493.6,386.8 494.4,385.8 495.2,385 496,384.9 496.8,384.9 497.6,385.4 498.4,385.7 499.2,386.2 500,386.2 500.8,386.9 501.6,388.2 502.4,387.9 503.2,388.4 504,389.8 504.8,391.4 505.6,391.7 506.4,393.4 507.2,394.3 508,395 508.8,397.5 509.6,399.2 510.4,401.3 511.2,402.9 512,405.3 512.8,406.8 513.6,408.7 514.4,409.8 515.2,411.2 516,413.6 516.8,414.5 517.6,416.5 518.4,418 519.2,419.3 520,420.5 520.8,422 521.6,422.7 522.4,423.6 523.2,424.5 524,425.6 524.8,426 525.6,426.6 526.4,427 527.2,427.4 528,428.8 528.8,429.3 529.6,429.2 530.4,429.7 531.2,430 532,430.3 532.8,430.7 533.6,430.7 534.4,431.7 535.2,430.9 536,431.7 536.8,431.6 537.6,431.7 538.4,432.1 539.2,431.8 540,430.4 540.8,429.7 541.6,430.2 542.4,429.5 543.2,429.9 544,430.2 544.8,429.3 545.6,429.2 546.4,430.1 547.2,430.3 548,430.6 548.8,430.9 549.6,430.6 550.4,430.3 551.2,430.7 552,430.4 552.8,430.1 553.6,431.1 554.4,431.3 555.2,431.8 556,431.7 556.8,432.1 557.6,432.3 558.4,432.6 559.2,433.2 560,433.1 560.8,433.7 561.6,433.8 562.4,434.6 563.2,433.5 564,434.4 564.8,433.8 565.6,432.7 566.4,431.3 567.2,431.1 568,431.1 568.8,430.4 569.6,430.1 570.4,429.7 571.2,430 572,429.4 572.8,428.5 573.6,428.8 574.4,428.2 575.2,427.5 576,428.1 576.8,428.3 577.6,427.4 578.4,426.5 579.2,426 580,426.1 580.8,425.2 581.6,424.5 582.4,423.7 583.2,423 584,422.4 584.8,421.5 585.6,420.5 586.4,419.1 587.2,418.7 588,417.3 588.8,416.9 589.6,414.9 590.4,414 591.2,412.4 592,410.1 592.8,409.3 593.6,407.4 594.4,405 595.2,403.8 596,402 596.8,399.4 597.6,398.8 598.4,397.1 599.2,395.6 600,393.6 600.8,392.3 601.6,390.7 602.4,389.5 603.2,387.5 604,385.5 604.8,384.2 605.6,381.4 606.4,379.3 607.2,376.3 608,375 608.8,372.4 609.6,370 610.4,367.6 611.2,365.2 612,363.1 612.8,360.9 613.6,359 614.4,357.2 615.2,355.9 616,353.6 616.8,351.4 617.6,349.3 618.4,347.5 619.2,346.5 620,344.5 620.8,342.8 621.6,341.1 622.4,339.2 623.2,337.8 624,336.5 624.8,334.8 625.6,333.7 626.4,332.8 627.2,332.3 628,331.7 628.8,332.4 629.6,332.5 630.4,333.7 631.2,333.8 632,335 632.8,336.8 633.6,338.1 634.4,340.1 635.2,342.9 636,345.7 636.8,348.4 637.6,352.4 638.4,356.7 639.2,360.1 640,364.7 640.8,369.6 641.6,375.9 642.4,382.4 643.2,389.9 644,397.8 644.8,404 645.6,411.5 646.4,418 647.2,423.3 648,428.8 648.8,434.4 649.6,438.6 650.4,443.6 651.2,448.5 652,453.8 652.8,458.5 653.6,461.9 654.4,464.6 655.2,467.6 656,470.5 656.8,473.2 657.6,475.2 658.4,477.6 659.2,479.9 660,482.1 660.8,484.4 661.6,486.5 662.4,488.4 663.2,490.5 664,492.9 664.8,494.3 665.6,496 666.4,497.1 667.2,499.4 668,500 668.8,501.6 669.6,503.7 670.4,504.9 671.2,505.7" class="k"/><polyline points="436.9,510.6 437.9,510.6 438.9,510.6 439.9,510.6 440.9,510.6 441.9,510.6 442.9,510.6 443.9,510.6 444.9,510.6 445.9,510.6 446.9,510.6 447.9,510.6 448.9,510.6 449.9,510.6 450.9,510.6 451.9,510.6 452.9,510.6 453.9,510.6 454.9,510.6 455.9,510.6 456.9,510.6 457.9,510.6 458.9,510.6 459.9,510.6 460.9,510.6 461.9,510.6 462.9,510.6 463.9,510.6 464.9,510.6 465.9,510.6 466.9,510.6 467.9,510.6 468.9,510.6 469.9,510.6 470.9,510.6 471.9,510.6 472.9,510.6 473.9,510.6 474.9,510.6 475.9,510.6 476.9,510.6 477.9,510.6 478.9,510.6 479.9,510.6 480.9,510.6 481.9,510.6 482.9,510.6 483.9,510.6 484.9,510.6 485.9,510.6 486.9,510.6 487.9,510.6 488.9,510.6 489.9,510.6 490.9,510.6 491.9,510.6 492.9,510.6 493.9,510.6 494.9,510.6 495.9,510.6 496.9,510.6 497.9,510.6 498.9,510.6 499.9,510.6 500.9,510.6 501.9,510.6 502.9,510.6 503.9,510.6 504.9,510.6" class="cy"/><polyline points="562.9,510.3 563.9,510.3 564.9,510.2 565.9,510.1 566.9,510 567.9,509.9 568.9,509.7 569.9,509.6 570.9,509.3 571.9,509.1 572.9,508.8 573.9,508.5 574.9,508.1 575.9,507.7 576.9,507.1 577.9,506.5 578.9,505.9 579.9,505.1 580.9,504.2 581.9,503.2 582.9,502.1 583.9,500.9 584.9,499.5 585.9,497.9 586.9,496.2 587.9,494.3 588.9,492.3 589.9,490 590.9,487.5 591.9,484.9 592.9,482 593.9,478.9 594.9,475.5 595.9,472 596.9,468.3 597.9,464.3 598.9,460.1 599.9,455.8 600.9,451.3 601.9,446.7 602.9,441.9 603.9,437 604.9,432 605.9,427 606.9,422 607.9,416.9 608.9,412 609.9,407.1 610.9,402.4 611.9,397.8 612.9,393.4 613.9,389.3 614.9,385.5 615.9,382 616.9,378.8 617.9,376 618.9,373.6 619.9,371.7 620.9,370.2 621.9,369.2 622.9,368.7 623.9,368.6 624.9,369.1 625.9,370 626.9,371.4 627.9,373.2 628.9,375.5 629.9,378.2 630.9,381.3 631.9,384.7 632.9,388.5 633.9,392.6 634.9,396.9 635.9,401.4 636.9,406.1 637.9,411 638.9,415.9 639.9,420.9 640.9,426 641.9,431 642.9,436 643.9,440.9 644.9,445.7 645.9,450.4 646.9,454.9 647.9,459.3 648.9,463.5 649.9,467.5 650.9,471.3 651.9,474.8 652.9,478.2 653.9,481.4 654.9,484.3 655.9,487 656.9,489.5 657.9,491.8 658.9,493.9 659.9,495.9 660.9,497.6 661.9,499.2 662.9,500.6 663.9,501.9 664.9,503 665.9,504 666.9,504.9 667.9,505.7 668.9,506.4 669.9,507 670.9,507.6 671.7,507.9" class="cy"/><polyline points="393.9,510.6 394.9,510.6 395.9,510.6 396.9,510.6 397.9,510.6 398.9,510.6 399.9,510.6 400.9,510.6 401.9,510.6 402.9,510.6 403.9,510.6 404.9,510.6 405.9,510.6 406.9,510.6 407.9,510.6 408.9,510.6 409.9,510.6 410.9,510.6 411.9,510.6 412.9,510.6 413.9,510.6 414.9,510.6 415.9,510.6 416.9,510.6 417.9,510.6 418.9,510.6 419.9,510.5 420.9,510.5 421.9,510.5 422.9,510.5 423.9,510.5 424.9,510.5 425.9,510.5 426.9,510.5 427.9,510.5 428.9,510.5 429.9,510.5 430.9,510.4 431.9,510.4 432.9,510.4 433.9,510.4 434.9,510.4 435.9,510.3 436.9,510.3 437.9,510.3 438.9,510.3 439.9,510.2 440.9,510.2 441.9,510.2 442.9,510.1 443.9,510.1 444.9,510 445.9,510 446.9,509.9 447.9,509.8 448.9,509.8 449.9,509.7 450.9,509.6 451.9,509.5 452.9,509.5 453.9,509.4 454.9,509.3 455.9,509.1 456.9,509 457.9,508.9 458.9,508.8 459.9,508.6 460.9,508.5 461.9,508.3 462.9,508.1 463.9,507.9 464.9,507.7 465.9,507.5 466.9,507.3 467.9,507.1 468.9,506.8 469.9,506.6 470.9,506.3 471.9,506 472.9,505.7 473.9,505.4 474.9,505 475.9,504.7 476.9,504.3 477.9,503.9 478.9,503.5 479.9,503.1 480.9,502.6 481.9,502.2 482.9,501.7 483.9,501.2 484.9,500.6 485.9,500.1 486.9,499.5 487.9,498.9 488.9,498.3 489.9,497.7 490.9,497 491.9,496.3 492.9,495.6 493.9,494.9 494.9,494.1 495.9,493.4 496.9,492.6 497.9,491.8 498.9,490.9 499.9,490.1 500.9,489.2 501.9,488.3 502.9,487.4 503.9,486.5 504.9,485.6 505.9,484.6 506.9,483.7 507.9,482.7 508.9,481.7 509.9,480.7 510.9,479.7 511.9,478.7 512.9,477.6 513.9,476.6 514.9,475.6 515.9,474.6 516.9,473.5 517.9,472.5 518.9,471.5 519.9,470.5 520.9,469.5 521.9,468.5 522.9,467.5 523.9,466.5 524.9,465.5 525.9,464.6 526.9,463.7 527.9,462.8 528.9,461.9 529.9,461 530.9,460.2 531.9,459.4 532.9,458.7 533.9,457.9 534.9,457.2 535.9,456.6 536.9,455.9 537.9,455.3 538.9,454.8 539.9,454.3 540.9,453.8 541.9,453.4 542.9,453 543.9,452.7 544.9,452.4 545.9,452.2 546.9,452 547.9,451.8 548.9,451.7 549.9,451.7 550.9,451.7 551.9,451.8 552.9,451.9 553.9,452 554.9,452.2 555.9,452.5 556.9,452.8 557.9,453.1 558.9,453.5 559.9,453.9 560.9,454.4 561.9,454.9 562.9,455.5 563.9,456.1 564.9,456.7 565.9,457.4 566.9,458.1 567.9,458.8 568.9,459.6 569.9,460.4 570.9,461.2 571.9,462.1 572.9,463 573.9,463.9 574.9,464.8 575.9,465.7 576.9,466.7 577.9,467.7 578.9,468.7 579.9,469.7 580.9,470.7 581.9,471.7 582.9,472.7 583.9,473.7 584.9,474.8 585.9,475.8 586.9,476.8 587.9,477.9 588.9,478.9 589.9,479.9 590.9,480.9 591.9,481.9 592.9,482.9 593.9,483.9 594.9,484.8 595.9,485.8 596.9,486.7 597.9,487.6 598.9,488.5 599.9,489.4 600.9,490.3 601.9,491.1 602.9,491.9 603.9,492.7 604.9,493.5 605.9,494.3 606.9,495 607.9,495.7 608.9,496.4 609.9,497.1 610.9,497.8 611.9,498.4 612.9,499 613.9,499.6 614.9,500.2 615.9,500.7 616.9,501.3 617.9,501.8 618.9,502.3 619.9,502.7 620.9,503.2 621.9,503.6 622.9,504 623.9,504.4 624.9,504.8 625.9,505.1 626.9,505.4 627.9,505.8 628.9,506.1 629.9,506.4 630.9,506.6 631.9,506.9 632.9,507.1 633.9,507.4 634.9,507.6 635.9,507.8 636.9,508 637.9,508.2 638.9,508.3 639.9,508.5 640.9,508.7 641.9,508.8 642.9,508.9 643.9,509.1 644.9,509.2 645.9,509.3 646.9,509.4 647.9,509.5 648.9,509.6 649.9,509.6 650.9,509.7 651.9,509.8 652.9,509.9 653.9,509.9 654.9,510 655.9,510 656.9,510.1 657.9,510.1 658.9,510.2 659.9,510.2 660.9,510.2 661.9,510.3 662.9,510.3 663.9,510.3" class="bd"/><polyline points="374.9,510.6 375.9,510.6 376.9,510.6 377.9,510.6 378.9,510.6 379.9,510.5 380.9,510.5 381.9,510.5 382.9,510.5 383.9,510.5 384.9,510.5 385.9,510.5 386.9,510.5 387.9,510.5 388.9,510.4 389.9,510.4 390.9,510.4 391.9,510.4 392.9,510.3 393.9,510.3 394.9,510.3 395.9,510.2 396.9,510.2 397.9,510.1 398.9,510.1 399.9,510 400.9,510 401.9,509.9 402.9,509.8 403.9,509.7 404.9,509.7 405.9,509.6 406.9,509.4 407.9,509.3 408.9,509.2 409.9,509 410.9,508.9 411.9,508.7 412.9,508.5 413.9,508.3 414.9,508.1 415.9,507.9 416.9,507.6 417.9,507.4 418.9,507.1 419.9,506.8 420.9,506.4 421.9,506.1 422.9,505.7 423.9,505.3 424.9,504.8 425.9,504.4 426.9,503.9 427.9,503.3 428.9,502.8 429.9,502.2 430.9,501.5 431.9,500.8 432.9,500.1 433.9,499.4 434.9,498.6 435.9,497.7 436.9,496.8 437.9,495.9 438.9,494.9 439.9,493.9 440.9,492.9 441.9,491.8 442.9,490.6 443.9,489.4 444.9,488.1 445.9,486.8 446.9,485.5 447.9,484.1 448.9,482.6 449.9,481.1 450.9,479.6 451.9,478 452.9,476.4 453.9,474.8 454.9,473.1 455.9,471.3 456.9,469.5 457.9,467.7 458.9,465.9 459.9,464.1 460.9,462.2 461.9,460.3 462.9,458.3 463.9,456.4 464.9,454.5 465.9,452.5 466.9,450.6 467.9,448.6 468.9,446.7 469.9,444.8 470.9,442.9 471.9,441 472.9,439.1 473.9,437.3 474.9,435.5 475.9,433.8 476.9,432.1 477.9,430.4 478.9,428.8 479.9,427.3 480.9,425.8 481.9,424.4 482.9,423.1 483.9,421.9 484.9,420.7 485.9,419.6 486.9,418.6 487.9,417.7 488.9,416.9 489.9,416.2 490.9,415.6 491.9,415.1 492.9,414.7 493.9,414.5 494.9,414.3 495.9,414.2 496.9,414.2 497.9,414.4 498.9,414.6 499.9,415 500.9,415.4 501.9,416 502.9,416.6 503.9,417.4 504.9,418.3 505.9,419.2 506.9,420.2 507.9,421.4 508.9,422.6 509.9,423.9 510.9,425.2 511.9,426.7 512.9,428.2 513.9,429.8 514.9,431.4 515.9,433.1 516.9,434.8 517.9,436.6 518.9,438.4 519.9,440.2 520.9,442.1 521.9,444 522.9,445.9 523.9,447.9 524.9,449.8 525.9,451.7 526.9,453.7 527.9,455.6 528.9,457.6 529.9,459.5 530.9,461.4 531.9,463.3 532.9,465.2 533.9,467 534.9,468.8 535.9,470.6 536.9,472.4 537.9,474.1 538.9,475.8 539.9,477.4 540.9,479 541.9,480.5 542.9,482 543.9,483.5 544.9,484.9 545.9,486.3 546.9,487.6 547.9,488.9 548.9,490.1 549.9,491.3 550.9,492.4 551.9,493.5 552.9,494.5 553.9,495.5 554.9,496.5 555.9,497.4 556.9,498.2 557.9,499 558.9,499.8 559.9,500.6 560.9,501.2 561.9,501.9 562.9,502.5 563.9,503.1 564.9,503.6 565.9,504.2 566.9,504.6 567.9,505.1 568.9,505.5 569.9,505.9 570.9,506.3 571.9,506.6 572.9,507 573.9,507.3 574.9,507.5 575.9,507.8 576.9,508 577.9,508.3 578.9,508.5 579.9,508.7 580.9,508.8 581.9,509 582.9,509.1 583.9,509.3 584.9,509.4 585.9,509.5 586.9,509.6 587.9,509.7 588.9,509.8 589.9,509.9 590.9,509.9 591.9,510 592.9,510.1 593.9,510.1 594.9,510.2 595.9,510.2 596.9,510.3 597.9,510.3 598.9,510.3" class="g"/><polyline points="374.9,497.5 375.9,496.9 376.9,496.3 377.9,495.7 378.9,495 379.9,494.4 380.9,493.7 381.9,493.1 382.9,492.4 383.9,491.8 384.9,491.1 385.9,490.5 386.9,489.8 387.9,489.2 388.9,488.5 389.9,487.9 390.9,487.2 391.9,486.6 392.9,486 393.9,485.4 394.9,484.8 395.9,484.3 396.9,483.7 397.9,483.2 398.9,482.7 399.9,482.2 400.9,481.7 401.9,481.3 402.9,480.9 403.9,480.5 404.9,480.2 405.9,479.9 406.9,479.6 407.9,479.3 408.9,479.1 409.9,479 410.9,478.8 411.9,478.7 412.9,478.6 413.9,478.6 414.9,478.6 415.9,478.6 416.9,478.7 417.9,478.8 418.9,479 419.9,479.2 420.9,479.4 421.9,479.6 422.9,479.9 423.9,480.3 424.9,480.6 425.9,481 426.9,481.4 427.9,481.8 428.9,482.3 429.9,482.8 430.9,483.3 431.9,483.8 432.9,484.4 433.9,484.9 434.9,485.5 435.9,486.1 436.9,486.7 437.9,487.4 438.9,488 439.9,488.6 440.9,489.3 441.9,489.9 442.9,490.6 443.9,491.3 444.9,491.9 445.9,492.6 446.9,493.2 447.9,493.9 448.9,494.5 449.9,495.2 450.9,495.8 451.9,496.4 452.9,497 453.9,497.6 454.9,498.2 455.9,498.8 456.9,499.3 457.9,499.9 458.9,500.4 459.9,500.9 460.9,501.4 461.9,501.9 462.9,502.4 463.9,502.8 464.9,503.3 465.9,503.7 466.9,504.1 467.9,504.5 468.9,504.8 469.9,505.2 470.9,505.5 471.9,505.8 472.9,506.2 473.9,506.4 474.9,506.7 475.9,507 476.9,507.2 477.9,507.5 478.9,507.7 479.9,507.9 480.9,508.1 481.9,508.3 482.9,508.5 483.9,508.6 484.9,508.8 485.9,508.9 486.9,509.1 487.9,509.2 488.9,509.3 489.9,509.4 490.9,509.5 491.9,509.6 492.9,509.7 493.9,509.8 494.9,509.8 495.9,509.9 496.9,510 497.9,510 498.9,510.1 499.9,510.1 500.9,510.2 501.9,510.2 502.9,510.2 503.9,510.3 504.9,510.3 505.9,510.3 506.9,510.4 507.9,510.4 508.9,510.4 509.9,510.4 510.9,510.4 511.9,510.5 512.9,510.5 513.9,510.5 514.9,510.5 515.9,510.5 516.9,510.5 517.9,510.5 518.9,510.5 519.9,510.5 520.9,510.6 521.9,510.6 522.9,510.6 523.9,510.6 524.9,510.6 525.9,510.6 526.9,510.6 527.9,510.6 528.9,510.6 529.9,510.6 530.9,510.6 531.9,510.6 532.9,510.6 533.9,510.6 534.9,510.6 535.9,510.6 536.9,510.6 537.9,510.6 538.9,510.6 539.9,510.6 540.9,510.6 541.9,510.6 542.9,510.6 543.9,510.6 544.9,510.6 545.9,510.6 546.9,510.6 547.9,510.6 548.9,510.6 549.9,510.6 550.9,510.6 551.9,510.6 552.9,510.6 553.9,510.6 554.9,510.6 555.9,510.6 556.9,510.6 557.9,510.6 558.9,510.6 559.9,510.6 560.9,510.6 561.9,510.6 562.9,510.6 563.9,510.6 564.9,510.6 565.9,510.6 566.9,510.6 567.9,510.6 568.9,510.6 569.9,510.6 570.9,510.6 571.9,510.6 572.9,510.6 573.9,510.6 574.9,510.6 575.9,510.6 576.9,510.6 577.9,510.6 578.9,510.6 579.9,510.6 580.9,510.6 581.9,510.6 582.9,510.6 583.9,510.6 584.9,510.6 585.9,510.6 586.9,510.6 587.9,510.6 588.9,510.6 589.9,510.6 590.9,510.6 591.9,510.6 592.9,510.6 593.9,510.6 594.9,510.6 595.9,510.6 596.9,510.6 597.9,510.6 598.9,510.6 599.9,510.6 600.9,510.6 601.9,510.6 602.9,510.6 603.9,510.6 604.9,510.6 605.9,510.6 606.9,510.6 607.9,510.6 608.9,510.6 609.9,510.6 610.9,510.6 611.9,510.6 612.9,510.6 613.9,510.6 614.9,510.6 615.9,510.6 616.9,510.6 617.9,510.6 618.9,510.6 619.9,510.6 620.9,510.6 621.9,510.6 622.9,510.6 623.9,510.6 624.9,510.6 625.9,510.6 626.9,510.6 627.9,510.6 628.9,510.6 629.9,510.6 630.9,510.6 631.9,510.6 632.9,510.6 633.9,510.6 634.9,510.6 635.9,510.6 636.9,510.6 637.9,510.6 638.9,510.6 639.9,510.6 640.9,510.6 641.9,510.6 642.9,510.6 643.9,510.6 644.9,510.6 645.9,510.6 646.9,510.6 647.9,510.6 648.9,510.6 649.9,510.6 650.9,510.6 651.9,510.6 652.9,510.6 653.9,510.6 654.9,510.6 655.9,510.6 656.9,510.6 657.9,510.6 658.9,510.6 659.9,510.6 660.9,510.6 661.9,510.6 662.9,510.6 663.9,510.6 664.9,510.6 665.9,510.6 666.9,510.6 667.9,510.6 668.9,510.6 669.9,510.6 670.9,510.6 671.7,510.6" class="r"/>
<rect x="27.2" y="4" width="297" height="238.6" fill="none" stroke="#000" stroke-width="2"/><rect x="381.6" y="3" width="297.5" height="239.1" fill="none" stroke="#000" stroke-width="2"/><rect x="27.2" y="304" width="297.8" height="239.6" fill="none" stroke="#000" stroke-width="2"/><rect x="374.4" y="303" width="297.8" height="239.9" fill="none" stroke="#000" stroke-width="2"/>
<path d="M27.2 242.6v4.2M64.4 242.6v4.2M101.6 242.6v4.2M138.8 242.6v4.2M176 242.6v4.2M213.2 242.6v4.2M250.5 242.6v4.2M287.7 242.6v4.2M324.9 242.6v4.2M45.8 242.6v2.3M83 242.6v2.3M120.2 242.6v2.3M157.4 242.6v2.3M194.6 242.6v2.3M231.9 242.6v2.3M269.1 242.6v2.3M306.3 242.6v2.3" stroke="#000" stroke-width="1.9" fill="none"/><path d="M381.6 242.1v4.2M466.6 242.1v4.2M551.6 242.1v4.2M636.6 242.1v4.2M424.1 242.1v2.3M509.1 242.1v2.3M594.1 242.1v2.3M679.1 242.1v2.3" stroke="#000" stroke-width="1.9" fill="none"/><path d="M27.2 543.6v4.2M126.6 543.6v4.2M226 543.6v4.2M325.4 543.6v4.2M76.9 543.6v2.3M176.3 543.6v2.3M275.7 543.6v2.3" stroke="#000" stroke-width="1.9" fill="none"/><path d="M374.4 542.9v4.2M424 542.9v4.2M473.7 542.9v4.2M523.3 542.9v4.2M572.9 542.9v4.2M622.6 542.9v4.2M672.2 542.9v4.2M399.2 542.9v2.3M448.9 542.9v2.3M498.5 542.9v2.3M548.1 542.9v2.3M597.8 542.9v2.3M647.4 542.9v2.3" stroke="#000" stroke-width="1.9" fill="none"/>
<g class="tl">
<text x="27.2" y="258.4" text-anchor="middle">800</text><text x="64.4" y="258.4" text-anchor="middle">700</text><text x="101.6" y="258.4" text-anchor="middle">600</text><text x="138.8" y="258.4" text-anchor="middle">500</text><text x="176" y="258.4" text-anchor="middle">400</text><text x="213.2" y="258.4" text-anchor="middle">300</text><text x="250.5" y="258.4" text-anchor="middle">200</text><text x="287.7" y="258.4" text-anchor="middle">100</text><text x="324.9" y="258.4" text-anchor="middle">0</text>
<text x="381.6" y="258.6" text-anchor="middle">290</text><text x="466.6" y="258.6" text-anchor="middle">288</text><text x="551.6" y="258.6" text-anchor="middle">286</text><text x="636.6" y="258.6" text-anchor="middle">284</text>
<text x="27.2" y="559.6" text-anchor="middle">166</text><text x="126.6" y="559.6" text-anchor="middle">164</text><text x="226" y="559.6" text-anchor="middle">162</text><text x="325.4" y="559.6" text-anchor="middle">160</text>
<text x="374.4" y="558.8" text-anchor="middle">735</text><text x="424" y="558.8" text-anchor="middle">730</text><text x="473.7" y="558.8" text-anchor="middle">725</text><text x="523.3" y="558.8" text-anchor="middle">720</text><text x="572.9" y="558.8" text-anchor="middle">715</text><text x="622.6" y="558.8" text-anchor="middle">710</text><text x="672.2" y="558.8" text-anchor="middle">705</text>
</g>
<g class="at">
<text x="175.9" y="277.7" text-anchor="middle">Binding Energy (eV)</text>
<text x="530.5" y="278" text-anchor="middle">Binding Energy (eV)</text>
<text x="176.4" y="579.4" text-anchor="middle">Binding Energy (eV)</text>
<text x="523.5" y="578.3" text-anchor="middle">Binding Energy (eV)</text>
<text class="yl" transform="translate(14.6,118.6) rotate(-90)" text-anchor="middle">Intensity (a.u.)</text>
<text class="yl" transform="translate(362.5,114) rotate(-90)" text-anchor="middle">Intensity (a. u.)</text>
<text class="yl" transform="translate(11.6,416) rotate(-90)" text-anchor="middle">Intensity (a. u.)</text>
<text class="yl" transform="translate(360.8,415.2) rotate(-90)" text-anchor="middle">Intensity (a. u.)</text>
</g>
<g class="pl">
<text x="31.4" y="27.9">(a)</text>
<text x="384" y="24.8">(b)</text>
<text x="28.6" y="325.5">(c)</text>
<text x="375.8" y="326.3">(d)</text>
</g>
<g class="pk">
<text x="44.5" y="57.7">Fe 2p</text>
<text x="116.7" y="78.9">O 1s</text>
<text x="165.6" y="187.4">N 1s</text>
<text x="207.6" y="162.8">C 1s</text>
<text x="252.8" y="190.8">S 2p</text>
</g>
</svg>
</body></html>
